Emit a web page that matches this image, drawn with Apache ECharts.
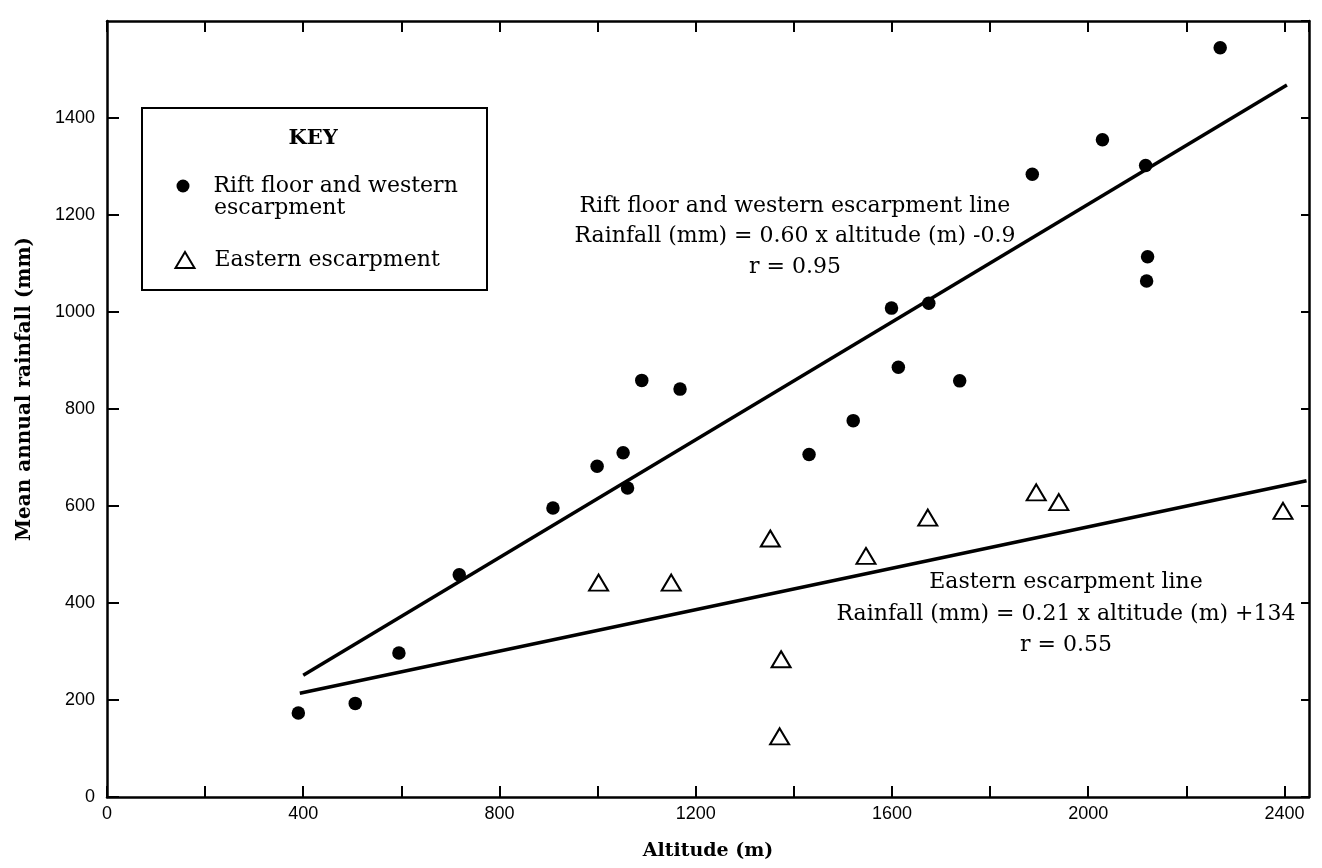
<!DOCTYPE html>
<html>
<head>
<meta charset="utf-8">
<title>Altitude vs mean annual rainfall</title>
<script src="https://cdn.jsdelivr.net/npm/echarts@6/dist/echarts.min.js"></script>
<style>
  html, body { margin: 0; padding: 0; background: #fff; }
  #chart { width: 1322px; height: 868px; }
</style>
</head>
<body>
<div id="chart"></div>
<script>
// rift floor and western escarpment stations (filled dots)
const riftAltitude = [390, 506, 595, 718, 909, 999, 1052, 1061, 1090, 1168, 1431, 1521, 1599, 1613, 1675, 1738, 1886, 2029, 2117, 2119, 2121, 2269];
const riftRainfall = [173, 193, 297, 458, 596, 682, 710, 637, 859, 841, 706, 776, 1008, 886, 1018, 858, 1284, 1355, 1302, 1064, 1114, 1545];

// eastern escarpment stations (open triangles)
const eastAltitude = [1002, 1150, 1352, 1371, 1374, 1547, 1673, 1894, 1940, 2397];
const eastRainfall = [442, 442, 533, 125, 284, 497, 576, 628, 608, 590];

// fitted lines, end points as drawn
const riftLineAltitude = [400, 2405];
const riftLineRainfall = [251, 1468];
const eastLineAltitude = [393, 2445];
const eastLineRainfall = [214, 652];

const riftName = 'Rift floor and western escarpment';
const eastName = 'Eastern escarpment';

const riftNote = ['Rift floor and western escarpment line', 'Rainfall (mm) = 0.60 x altitude (m) -0.9', 'r = 0.95'];
const eastNote = ['Eastern escarpment line', 'Rainfall (mm) = 0.21 x altitude (m) +134', 'r = 0.55'];

const pairs = (xs, ys) => xs.map((x, i) => [x, ys[i]]);

const serif = '"DejaVu Serif", serif';
const sans = '"Liberation Sans", Arial, sans-serif';

const frame = { show: true, onZero: false, lineStyle: { color: '#000', width: 2.5 } };
const tick = (len) => ({ show: true, inside: true, length: len, lineStyle: { color: '#000', width: 2 } });

const chart = echarts.init(document.getElementById('chart'));

// annotation block, one text per line, centred on cx
const noteText = (lines, cx, ys) => lines.map((t, i) => ({
    type: 'text',
    x: cx,
    y: ys[i],
    style: { text: t, font: '22px ' + serif, fill: '#000', textAlign: 'center', textVerticalAlign: 'middle' }
}));

const option = {
    animation: false,
    backgroundColor: '#fff',
    grid: { left: 107, top: 21, width: 1202, height: 776 },
    xAxis: [{
        type: 'value', min: 0, max: 2450, interval: 200, position: 'bottom',
        name: 'Altitude (m)', nameLocation: 'middle', nameGap: 45,
        nameTextStyle: { fontFamily: serif, fontWeight: 'bold', fontSize: 19, color: '#000' },
        axisLine: frame, axisTick: tick(11), splitLine: { show: false },
        axisLabel: {
            fontFamily: sans, fontSize: 18, color: '#000', margin: 8, showMaxLabel: false,
            formatter: (v) => (v % 400 === 0 ? String(v) : '')
        }
    }, {
        type: 'value', min: 0, max: 2450, interval: 200, position: 'top',
        axisLine: frame, axisTick: tick(11), splitLine: { show: false }, axisLabel: { show: false }
    }],
    yAxis: [{
        type: 'value', min: 0, max: 1600, interval: 200, position: 'left',
        name: 'Mean annual rainfall (mm)', nameLocation: 'middle', nameGap: 72,
        nameTextStyle: { fontFamily: serif, fontWeight: 'bold', fontSize: 20, color: '#000', padding: [0, 0, 0, 40] },
        axisLine: frame, axisTick: tick(12), splitLine: { show: false },
        axisLabel: {
            fontFamily: sans, fontSize: 18, color: '#000', margin: 12, showMaxLabel: false,
            formatter: (v) => String(v)
        }
    }, {
        type: 'value', min: 0, max: 1600, interval: 200, position: 'right',
        axisLine: frame, axisTick: tick(8), splitLine: { show: false }, axisLabel: { show: false }
    }],
    legend: [{
        data: [riftName], left: 176.5, top: 175, padding: 0,
        itemWidth: 13, itemHeight: 13,
        formatter: () => 'Rift floor and western',
        textStyle: { fontFamily: serif, fontSize: 22, color: '#000', padding: [0, 0, 0, 19] }
    }, {
        data: [eastName], left: 174.5, top: 249, padding: 0,
        itemWidth: 19, itemHeight: 16,
        textStyle: { fontFamily: serif, fontSize: 22, color: '#000', padding: [0, 0, 0, 15] }
    }],
    graphic: [
        {
            type: 'rect', z: -1,
            shape: { x: 142, y: 108, width: 345, height: 182 },
            style: { fill: '#fff', stroke: '#000', lineWidth: 2 }
        },
        {
            type: 'text', x: 313, y: 139,
            style: { text: 'KEY', font: 'bold 21px ' + serif, fill: '#000', textAlign: 'center', textVerticalAlign: 'middle' }
        },
        {
            // second line of the first key entry
            type: 'text', x: 214, y: 208,
            style: { text: 'escarpment', font: '22px ' + serif, fill: '#000', textAlign: 'left', textVerticalAlign: 'middle' }
        },
        ...noteText(riftNote, 795, [206, 236, 267]),
        ...noteText(eastNote, 1066, [582, 614, 645])
    ],
    series: [{
        name: riftName, type: 'scatter',
        data: pairs(riftAltitude, riftRainfall),
        symbol: 'circle', symbolSize: 13.5,
        itemStyle: { color: '#000', opacity: 1 }
    }, {
        name: eastName, type: 'scatter',
        data: pairs(eastAltitude, eastRainfall),
        symbol: 'triangle', symbolSize: [19, 16],
        itemStyle: { color: '#fff', borderColor: '#000', borderWidth: 2, opacity: 1 }
    }, {
        name: 'Rift floor and western escarpment line', type: 'line',
        data: pairs(riftLineAltitude, riftLineRainfall),
        showSymbol: false, silent: true,
        lineStyle: { color: '#000', width: 3.5 }
    }, {
        name: 'Eastern escarpment line', type: 'line',
        data: pairs(eastLineAltitude, eastLineRainfall),
        showSymbol: false, silent: true,
        lineStyle: { color: '#000', width: 3.5 }
    }]
};

chart.setOption(option);
</script>
</body>
</html>
